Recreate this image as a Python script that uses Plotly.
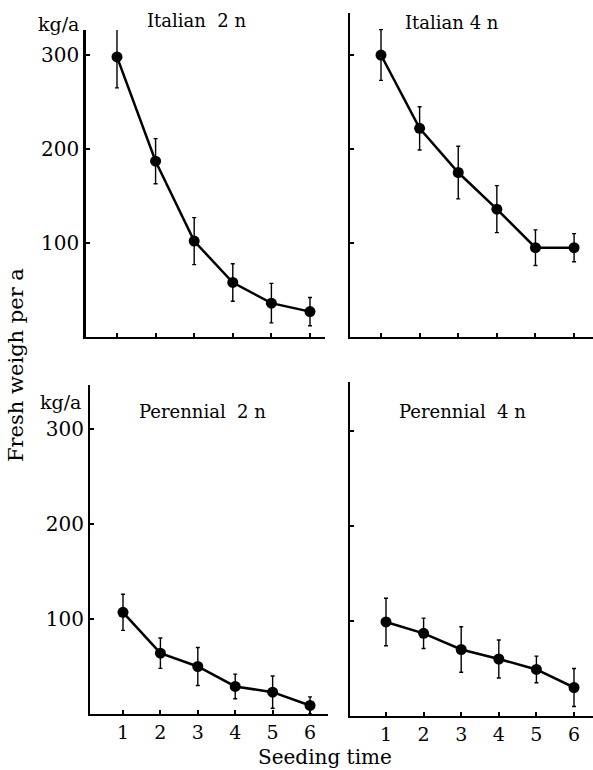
import plotly.graph_objects as go

# Seeding time (1..6) and fresh weight per are (kg/a), with error bar half-lengths
seeding_time = [1, 2, 3, 4, 5, 6]
x_tick_labels = ["1", "2", "3", "4", "5", "6"]
y_tick_values = [100, 200, 300]
y_tick_labels = ["100", "200", "300"]

italian_2n = [298, 187, 102, 58, 36, 27]
italian_2n_err = [33, 24, 25, 20, 21, 15]

italian_4n = [300, 222, 175, 136, 95, 95]
italian_4n_err = [27, 23, 28, 25, 19, 15]

perennial_2n = [107, 64, 50, 29, 23, 9]
perennial_2n_err = [19, 16, 20, 13, 17, 9]

perennial_4n = [99, 87, 70, 60, 49, 30]
perennial_4n_err = [25, 16, 24, 20, 14, 20]

W, H = 593, 770
FONT = "DejaVu Serif"

panels = [
    # (values, errors, axis suffix, title, title center px)
    (italian_2n, italian_2n_err, "", "Italian\u00a0 2 n", (197, 21)),
    (italian_4n, italian_4n_err, "2", "Italian 4 n", (452, 22)),
    (perennial_2n, perennial_2n_err, "3", "Perennial\u00a0 2 n", (202, 411)),
    (perennial_4n, perennial_4n_err, "4", "Perennial\u00a0 4 n", (462, 412)),
]

fig = go.Figure()
for vals, errs, sfx, _, _ in panels:
    fig.add_trace(go.Scatter(
        x=seeding_time, y=vals,
        xaxis="x" + sfx, yaxis="y" + sfx,
        mode="lines+markers",
        line=dict(color="black", width=2.5),
        marker=dict(color="black", size=11),
        error_y=dict(type="data", array=errs, color="black",
                     thickness=1.4, width=2),
        showlegend=False, hoverinfo="skip",
    ))


def px_x(p):
    return p / W


def px_y(p):
    return (H - p) / H


def xaxis(left, right, rng, labels, anchor, lw=2):
    return dict(
        domain=[px_x(left), px_x(right)], range=rng, anchor=anchor,
        showgrid=False, zeroline=False, showline=True,
        linecolor="black", linewidth=lw,
        ticks="inside", ticklen=4, tickwidth=2, tickcolor="black",
        tickmode="array", tickvals=seeding_time, ticktext=x_tick_labels,
        showticklabels=labels,
        tickfont=dict(family=FONT, size=19, color="black"),
        fixedrange=True,
    )


def yaxis(bottom, top, rng, labels, anchor, lw=2):
    return dict(
        domain=[px_y(bottom), px_y(top)], range=rng, anchor=anchor,
        showgrid=False, zeroline=False, showline=True,
        linecolor="black", linewidth=lw,
        ticks="inside", ticklen=4, tickwidth=2, tickcolor="black",
        tickmode="array", tickvals=y_tick_values, ticktext=y_tick_labels,
        showticklabels=labels,
        tickfont=dict(family=FONT, size=20, color="black"),
        fixedrange=True,
    )


fig.update_layout(
    width=W, height=H,
    margin=dict(l=0, r=0, t=0, b=0),
    paper_bgcolor="white", plot_bgcolor="white",
    xaxis=xaxis(86, 325, [0.197, 6.389], False, "y"),
    yaxis=yaxis(337, 30, [0, 326.6], True, "x", lw=2.5),
    xaxis2=xaxis(350, 593, [0.197, 6.49], False, "y2"),
    yaxis2=yaxis(337, 13, [0, 344.7], False, "x2", lw=1.5),
    xaxis3=xaxis(90, 328, [0.118, 6.48], True, "y3"),
    yaxis3=yaxis(714, 385, [0, 346.3], True, "x3"),
    xaxis4=xaxis(350, 593, [0.043, 6.505], True, "y4"),
    yaxis4=yaxis(716, 382, [0, 351.6], False, "x4"),
)

annotations = []
for _, _, _, title, (cx, cy) in panels:
    annotations.append(dict(
        text=title, x=px_x(cx), y=px_y(cy), xref="paper", yref="paper",
        xanchor="center", yanchor="middle", showarrow=False,
        font=dict(family=FONT, size=18, color="black"),
    ))

# unit labels above the left-hand axes
for cx, cy in [(58, 24), (60, 402)]:
    annotations.append(dict(
        text="kg/a", x=px_x(cx), y=px_y(cy), xref="paper", yref="paper",
        xanchor="center", yanchor="middle", showarrow=False,
        font=dict(family=FONT, size=19, color="black"),
    ))

# shared axis titles
annotations.append(dict(
    text="Fresh weigh per a", x=px_x(16), y=px_y(365), xref="paper", yref="paper",
    xanchor="center", yanchor="middle", showarrow=False, textangle=-90,
    font=dict(family=FONT, size=21, color="black"),
))
annotations.append(dict(
    text="Seeding time", x=px_x(325), y=px_y(757), xref="paper", yref="paper",
    xanchor="center", yanchor="middle", showarrow=False,
    font=dict(family=FONT, size=20, color="black"),
))

fig.update_layout(annotations=annotations)

fig.write_html("out.html")
